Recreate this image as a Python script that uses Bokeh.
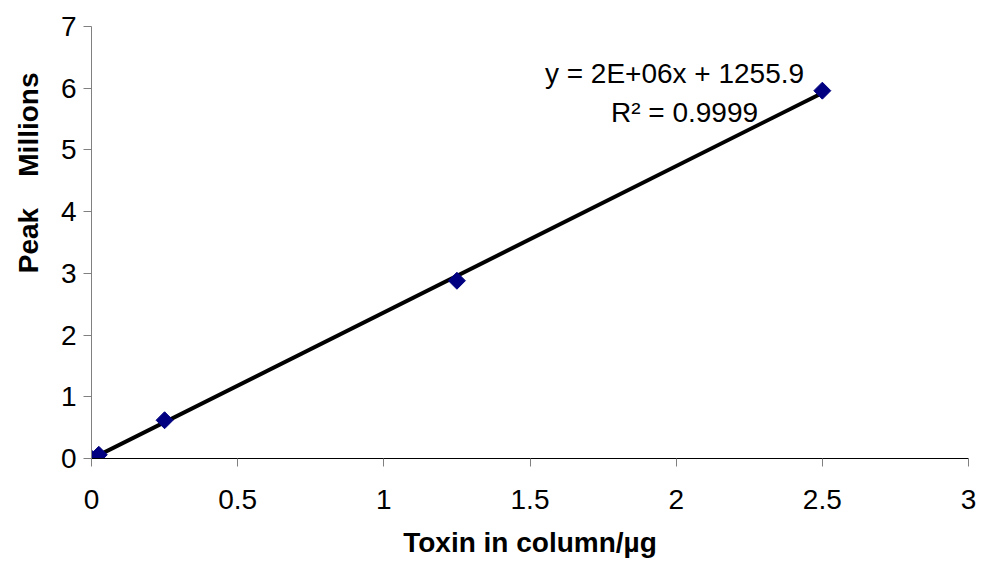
import numpy as np
from bokeh.plotting import figure
from bokeh.models import Range1d, Label, FixedTicker, Title
from bokeh.embed import file_html
from bokeh.resources import INLINE

toxin_ug = [0.0, 0.025, 0.25, 1.25, 2.5]
peak_millions = [0.0, 0.06, 0.62, 2.88, 5.96]
x_ticks = [0, 0.5, 1, 1.5, 2, 2.5, 3]
y_ticks = [0, 1, 2, 3, 4, 5, 6, 7]
equation_text = "y = 2E+06x + 1255.9"
r2_text = "R\u00b2 = 0.9999"
y_title = "Peak\u00a0\u00a0\u00a0\u00a0Millions"
x_title = "Toxin in column/\u00b5g"

FONT = "Liberation Sans"
FS = "28px"

p = figure(width=983, height=571, output_backend="svg", toolbar_location=None,
           x_range=Range1d(0, 3), y_range=Range1d(0, 7),
           min_border_left=90, min_border_right=15, min_border_top=26, min_border_bottom=113)
p.outline_line_color = None
p.xgrid.visible = False
p.ygrid.visible = False

# trendline (least squares on the data)
slope, intercept = np.polyfit(toxin_ug, peak_millions, 1)
xs = [min(toxin_ug), max(toxin_ug)]
p.line(xs, [slope * v + intercept for v in xs], line_color="black", line_width=4)

p.scatter(toxin_ug, peak_millions, marker="square", angle=np.pi / 4, size=12,
          fill_color="#000080", line_color="#000080")

for ax in (p.xaxis[0], p.yaxis[0]):
    ax.major_label_text_font = FONT
    ax.major_label_text_font_size = FS
    ax.major_label_text_color = "black"
    ax.minor_tick_line_color = None
    ax.major_tick_in = 0
    ax.major_tick_out = 8
    ax.major_tick_line_width = 1

p.xaxis[0].ticker = FixedTicker(ticks=x_ticks)
p.yaxis[0].ticker = FixedTicker(ticks=y_ticks)
p.xaxis[0].axis_line_color = "black"
p.xaxis[0].major_tick_line_color = "#808080"
p.yaxis[0].axis_line_color = "#808080"
p.yaxis[0].major_tick_line_color = "#808080"
p.xaxis[0].major_label_standoff = 23
p.yaxis[0].major_label_standoff = 7

p.xaxis[0].axis_label = x_title
p.xaxis[0].axis_label_text_font = FONT
p.xaxis[0].axis_label_text_font_size = FS
p.xaxis[0].axis_label_text_font_style = "bold"
p.xaxis[0].axis_label_text_color = "black"
p.xaxis[0].axis_label_standoff = 15

# y axis title (Excel-style "Peak" title with "Millions" display-unit label above it)
p.add_layout(Title(text=y_title, align="right", offset=46, standoff=24,
                   vertical_align="top",
                   text_font=FONT, text_font_size=FS, text_font_style="bold",
                   text_color="black"), "left")

# Label screen coordinates are relative to the plot frame (left=90, bottom=458 from top)
FL, FB = 90, 458
p.add_layout(Label(x=673 - FL, y=FB - 73, x_units="screen", y_units="screen", text=equation_text,
                   text_align="center", text_baseline="middle", text_color="black",
                   text_font=FONT, text_font_size=FS))
p.add_layout(Label(x=683 - FL, y=FB - 112, x_units="screen", y_units="screen", text=r2_text,
                   text_align="center", text_baseline="middle", text_color="black",
                   text_font=FONT, text_font_size=FS))

open("out.html", "w").write(file_html(p, INLINE))
